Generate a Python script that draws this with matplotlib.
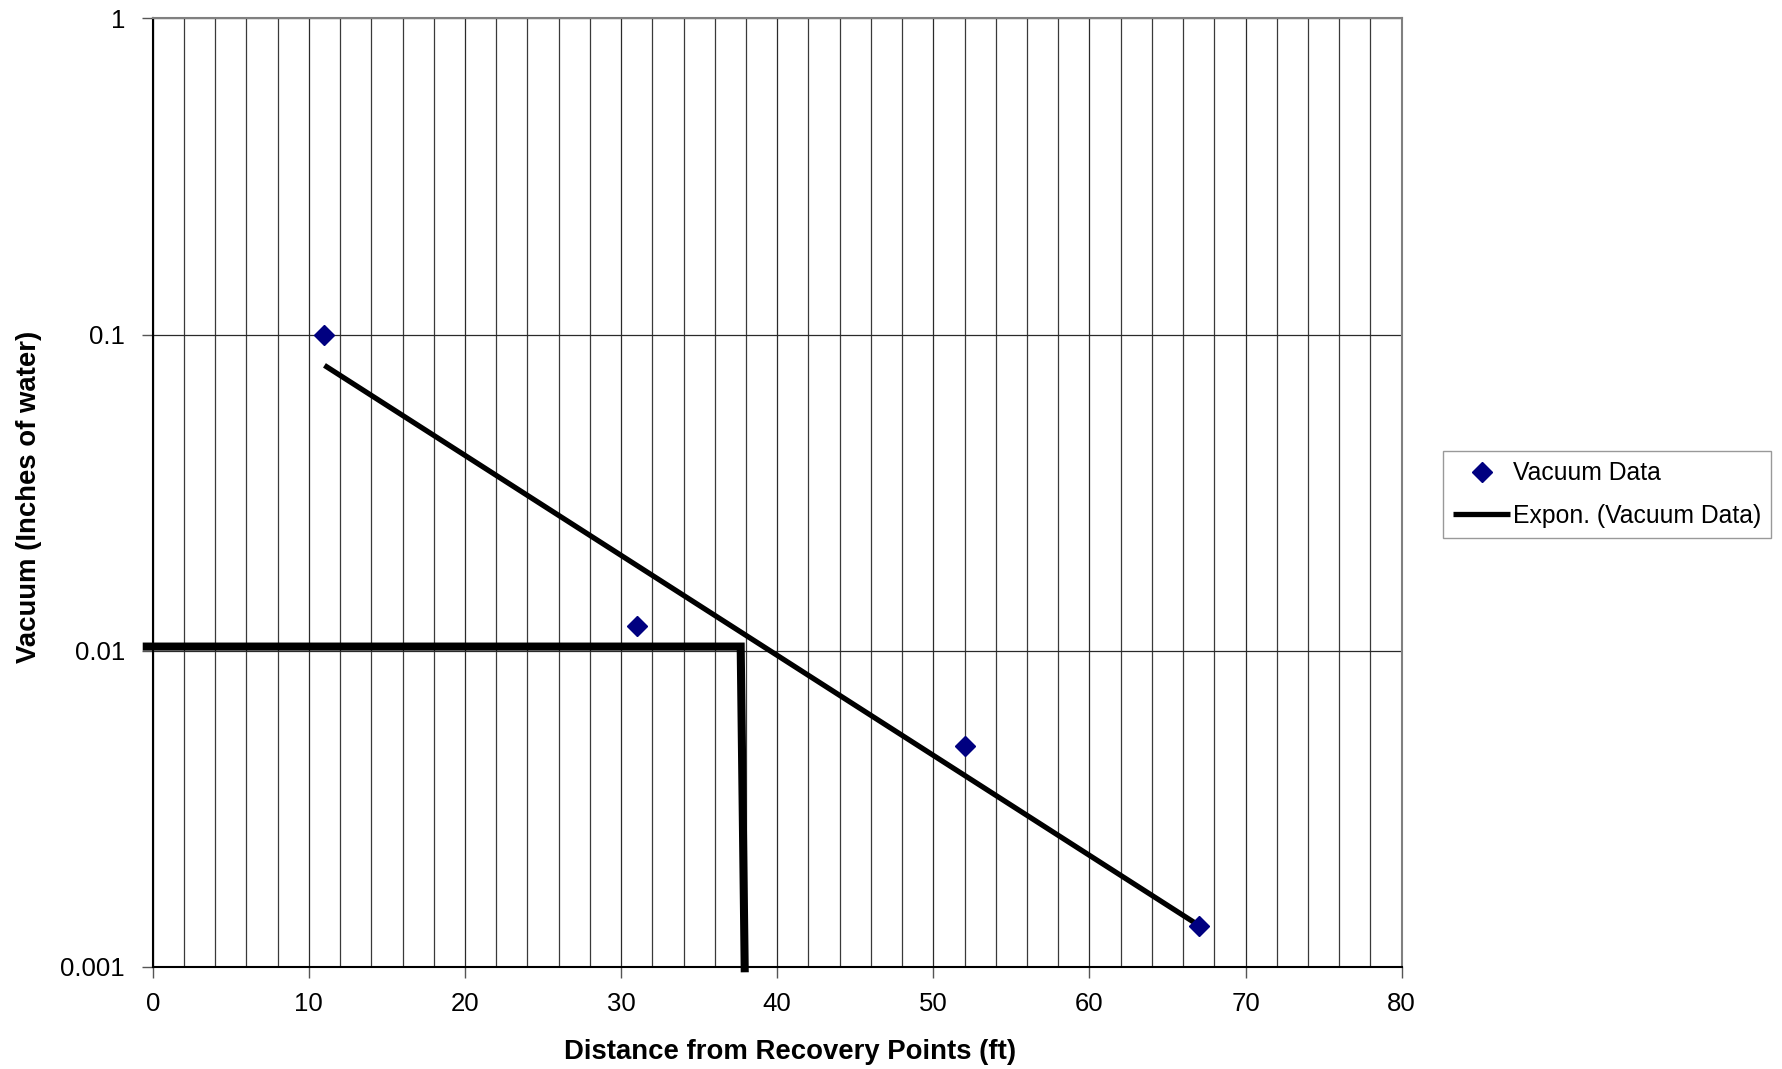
import numpy as np
import matplotlib
matplotlib.use("Agg")
import matplotlib.pyplot as plt
from matplotlib.ticker import MultipleLocator, FixedLocator, FuncFormatter, NullLocator

plt.rcParams['font.family'] = ['Liberation Sans', 'DejaVu Sans']

# Measured vacuum at each monitoring distance
distance_ft = [11, 31, 52, 67]
vacuum_inh2o = [0.1, 0.012, 0.005, 0.00135]

# Radius-of-influence construction line (0.01 in. water cutoff)
cutoff_x = [-0.64, 37.66, 37.92]
cutoff_y = [0.0103, 0.0103, 0.00096]

y_ticks = [0.001, 0.01, 0.1, 1]
x_ticks = [0, 10, 20, 30, 40, 50, 60, 70, 80]

fig = plt.figure(figsize=(17.82, 10.69), dpi=100)
ax = fig.add_axes([0.0857, 0.0957, 0.7009, 0.887])

ax.set_yscale('log')
ax.set_xlim(0, 80)
ax.set_ylim(0.001, 1)

# Exponential trend line fitted to the data
coef = np.polyfit(distance_ft, np.log(vacuum_inh2o), 1)
xt = np.array([distance_ft[0], distance_ft[-1]], dtype=float)
yt = np.exp(np.polyval(coef, xt))

ax.plot(distance_ft, vacuum_inh2o, linestyle='none', marker='D', markersize=10,
        color='#000080', label='Vacuum Data', zorder=4)
ax.plot(xt, yt, color='black', lw=3.8, solid_capstyle='butt',
        label='Expon. (Vacuum Data)', zorder=3)
ax.plot(cutoff_x, cutoff_y, color='black', lw=5.8, solid_capstyle='butt',
        solid_joinstyle='miter', clip_on=False, zorder=5)

# Grid: vertical every 2 ft, horizontal at each decade
ax.xaxis.set_major_locator(FixedLocator(x_ticks))
ax.xaxis.set_minor_locator(MultipleLocator(2))
ax.yaxis.set_major_locator(FixedLocator(y_ticks))
ax.yaxis.set_minor_locator(NullLocator())
ax.yaxis.set_major_formatter(FuncFormatter(lambda v, p: f'{v:g}'))
ax.grid(True, which='major', axis='both', color='#2a2a2a', lw=0.9)
ax.grid(True, which='minor', axis='x', color='#3a3a3a', lw=0.9)
ax.tick_params(axis='x', which='minor', length=0)
ax.tick_params(axis='both', which='major', length=8, width=1, color='#555555',
               labelsize=18.5, direction='out')
ax.tick_params(axis='y', pad=12)
ax.tick_params(axis='x', pad=10)
ax.set_axisbelow(True)

for s in ['top', 'right']:
    ax.spines[s].set_color('#808080')
    ax.spines[s].set_linewidth(1.5)
for s in ['left', 'bottom']:
    ax.spines[s].set_color('black')
    ax.spines[s].set_linewidth(1.5)

ax.set_xlabel('Distance from Recovery Points (ft)', fontsize=19.8, fontweight='bold')
ax.set_ylabel('Vacuum (Inches of water)', fontsize=19.8, fontweight='bold')
ax.xaxis.set_label_coords(0.510, -0.0758)
ax.yaxis.set_label_coords(-0.0886, 0.495)

leg = fig.legend(loc='upper left', bbox_to_anchor=(1443 / 1782, 1 - 451 / 1069),
                 frameon=True, fancybox=False, fontsize=17.8, handlelength=2.3,
                 handletextpad=0.1, borderpad=0.42, labelspacing=0.74,
                 borderaxespad=0)
leg.get_frame().set_edgecolor('#808080')
leg.get_frame().set_linewidth(1.0)

fig.savefig('out.png', dpi=100)
